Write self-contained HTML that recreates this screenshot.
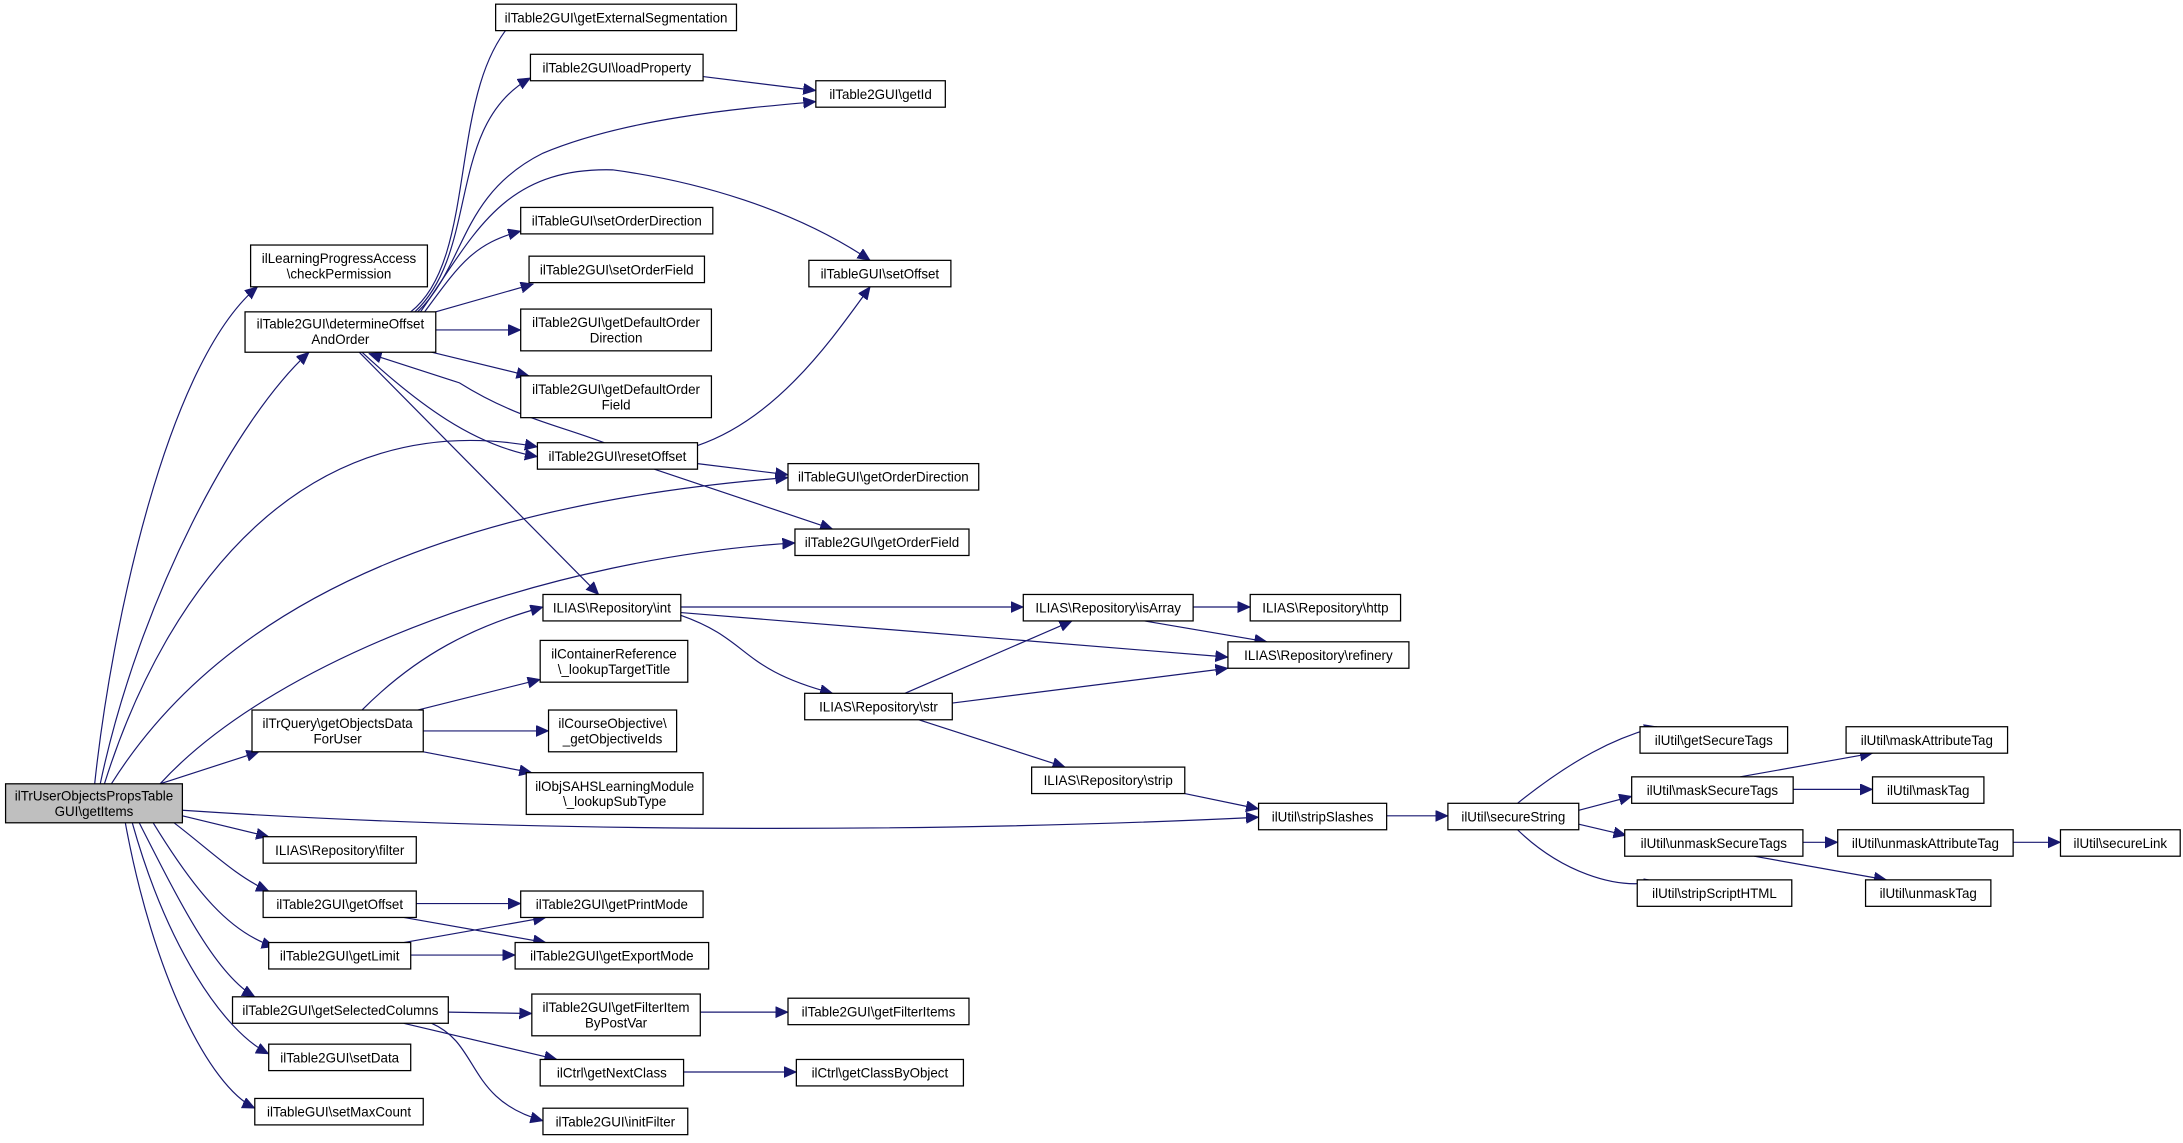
<!DOCTYPE html>
<html><head><meta charset="utf-8"><style>
html,body{margin:0;padding:0;background:#fff;}
svg{display:block}
text{font-family:"Liberation Sans",Helvetica,sans-serif;font-size:9.6px;fill:#000;text-anchor:middle}
.b{fill:#fff;stroke:#000;stroke-width:0.9}
.e{fill:none;stroke:#191970;stroke-width:0.85}
</style></head><body>
<svg width="2183" height="1143" viewBox="0 0 1568 821" xmlns="http://www.w3.org/2000/svg">
<defs><marker id="a" markerUnits="userSpaceOnUse" markerWidth="10" markerHeight="10" refX="9" refY="4" orient="auto"><path d="M0,0 L9,4 L0,8 z" fill="#191970" stroke="#191970" stroke-width="0.5"/></marker></defs>
<g marker-end="url(#a)">
<path class="e" d="M68,563 C80,450 120,260 185,206"/>
<path class="e" d="M72,563 C100,430 170,300 222,253"/>
<path class="e" d="M75,563 C120,420 220,290 386,321"/>
<path class="e" d="M80,563 C170,420 350,360 566,343"/>
<path class="e" d="M115,563 C200,470 400,400 571,390"/>
<path class="e" d="M115,563 L186,540"/>
<path class="e" d="M131,582 C400,600 700,597 904,587"/>
<path class="e" d="M131,586 L193,601"/>
<path class="e" d="M125,591 C150,610 170,630 193,640"/>
<path class="e" d="M110,591 C140,640 165,670 197,680"/>
<path class="e" d="M100,591 C130,650 155,700 183,716"/>
<path class="e" d="M95,591 C120,680 160,740 193,757"/>
<path class="e" d="M90,591 C110,700 150,780 183,796"/>
<path class="e" d="M295,224 C345,185 320,60 372,12"/>
<path class="e" d="M298,224 C345,180 320,90 381,56"/>
<path class="e" d="M300,224 C335,190 330,140 390,110 C450,85 530,78 586,73"/>
<path class="e" d="M302,224 C340,170 360,120 440,122 C500,130 570,150 625,187"/>
<path class="e" d="M305,224 C330,190 340,175 374,166"/>
<path class="e" d="M313,224 L383,204"/>
<path class="e" d="M313,237 L374,237"/>
<path class="e" d="M310,253 L380,270"/>
<path class="e" d="M260,253 C300,290 340,320 386,328"/>
<path class="e" d="M434,318 C400,305 370,300 330,275 L265,254"/>
<path class="e" d="M258,253 L430,427"/>
<path class="e" d="M501,320 C560,300 600,240 625,206"/>
<path class="e" d="M501,333 L566,341"/>
<path class="e" d="M470,337 L598,380"/>
<path class="e" d="M505,55 L586,65"/>
<path class="e" d="M489,436 L735,436"/>
<path class="e" d="M489,440 L882,472"/>
<path class="e" d="M489,442 C540,460 530,480 598,498"/>
<path class="e" d="M650,498 L770,446"/>
<path class="e" d="M684,505 L882,480"/>
<path class="e" d="M660,517 L765,551"/>
<path class="e" d="M857,436 L898,436"/>
<path class="e" d="M822,446 L910,461"/>
<path class="e" d="M260,510 C300,470 340,450 390,436"/>
<path class="e" d="M300,510 L388,488"/>
<path class="e" d="M304,525 L394,525"/>
<path class="e" d="M304,540 L382,555"/>
<path class="e" d="M851,570 L904,581"/>
<path class="e" d="M996,586 L1040,586"/>
<path class="e" d="M1090,577 C1130,545 1160,530 1190,522"/>
<path class="e" d="M1134,582 L1172,572"/>
<path class="e" d="M1134,592 L1168,600"/>
<path class="e" d="M1090,596 C1120,625 1160,640 1190,633"/>
<path class="e" d="M1250,558 L1345,541"/>
<path class="e" d="M1288,567 L1345,567"/>
<path class="e" d="M1295,605 L1320,605"/>
<path class="e" d="M1260,615 L1355,632"/>
<path class="e" d="M1446,605 L1480,605"/>
<path class="e" d="M299,649 L374,649"/>
<path class="e" d="M290,659 L392,677"/>
<path class="e" d="M290,677 L392,659"/>
<path class="e" d="M295,686 L370,686"/>
<path class="e" d="M322,727 L382,728"/>
<path class="e" d="M290,735 L400,761"/>
<path class="e" d="M310,735 C345,750 335,790 390,805"/>
<path class="e" d="M503,727 L566,727"/>
<path class="e" d="M491,770 L572,770"/>
</g>
<rect x="4" y="563" width="127" height="28" fill="#bfbfbf" stroke="#000" stroke-width="0.9"/>
<text x="67.5" y="575">ilTrUserObjectsPropsTable</text><text x="67.5" y="586">GUI\getItems</text>
<rect class="b" x="180" y="176" width="127" height="30"/><text x="243.5" y="189">ilLearningProgressAccess</text><text x="243.5" y="200">\checkPermission</text>
<rect class="b" x="176" y="224" width="137" height="29"/><text x="244.5" y="236">ilTable2GUI\determineOffset</text><text x="244.5" y="247">AndOrder</text>
<rect class="b" x="356" y="3" width="173" height="19"/><text x="442.5" y="16">ilTable2GUI\getExternalSegmentation</text>
<rect class="b" x="381" y="39" width="124" height="19"/><text x="443" y="52">ilTable2GUI\loadProperty</text>
<rect class="b" x="586" y="58" width="93" height="19"/><text x="632.5" y="71">ilTable2GUI\getId</text>
<rect class="b" x="374" y="149" width="138" height="19"/><text x="443" y="162">ilTableGUI\setOrderDirection</text>
<rect class="b" x="380" y="184" width="126" height="19"/><text x="443" y="197">ilTable2GUI\setOrderField</text>
<rect class="b" x="374" y="222" width="137" height="30"/><text x="442.5" y="235">ilTable2GUI\getDefaultOrder</text><text x="442.5" y="246">Direction</text>
<rect class="b" x="374" y="270" width="137" height="30"/><text x="442.5" y="283">ilTable2GUI\getDefaultOrder</text><text x="442.5" y="294">Field</text>
<rect class="b" x="581" y="187" width="102" height="19"/><text x="632" y="200">ilTableGUI\setOffset</text>
<rect class="b" x="386" y="318" width="115" height="19"/><text x="443.5" y="331">ilTable2GUI\resetOffset</text>
<rect class="b" x="566" y="333" width="137" height="19"/><text x="634.5" y="346">ilTableGUI\getOrderDirection</text>
<rect class="b" x="571" y="380" width="125" height="19"/><text x="633.5" y="393">ilTable2GUI\getOrderField</text>
<rect class="b" x="390" y="427" width="99" height="19"/><text x="439.5" y="440">ILIAS\Repository\int</text>
<rect class="b" x="181" y="510" width="123" height="30"/><text x="242.5" y="523">ilTrQuery\getObjectsData</text><text x="242.5" y="534">ForUser</text>
<rect class="b" x="388" y="460" width="106" height="30"/><text x="441" y="473">ilContainerReference</text><text x="441" y="484">\_lookupTargetTitle</text>
<rect class="b" x="394" y="510" width="92" height="30"/><text x="440" y="523">ilCourseObjective\</text><text x="440" y="534">_getObjectiveIds</text>
<rect class="b" x="378" y="555" width="127" height="30"/><text x="441.5" y="568">ilObjSAHSLearningModule</text><text x="441.5" y="579">\_lookupSubType</text>
<rect class="b" x="189" y="601" width="110" height="19"/><text x="244" y="614">ILIAS\Repository\filter</text>
<rect class="b" x="189" y="640" width="110" height="19"/><text x="244" y="653">ilTable2GUI\getOffset</text>
<rect class="b" x="374" y="640" width="131" height="19"/><text x="439.5" y="653">ilTable2GUI\getPrintMode</text>
<rect class="b" x="193" y="677" width="102" height="19"/><text x="244" y="690">ilTable2GUI\getLimit</text>
<rect class="b" x="370" y="677" width="139" height="19"/><text x="439.5" y="690">ilTable2GUI\getExportMode</text>
<rect class="b" x="167" y="716" width="155" height="19"/><text x="244.5" y="729">ilTable2GUI\getSelectedColumns</text>
<rect class="b" x="382" y="714" width="121" height="30"/><text x="442.5" y="727">ilTable2GUI\getFilterItem</text><text x="442.5" y="738">ByPostVar</text>
<rect class="b" x="566" y="717" width="130" height="19"/><text x="631" y="730">ilTable2GUI\getFilterItems</text>
<rect class="b" x="388" y="761" width="103" height="19"/><text x="439.5" y="774">ilCtrl\getNextClass</text>
<rect class="b" x="572" y="761" width="120" height="19"/><text x="632" y="774">ilCtrl\getClassByObject</text>
<rect class="b" x="193" y="750" width="102" height="19"/><text x="244" y="763">ilTable2GUI\setData</text>
<rect class="b" x="183" y="789" width="121" height="19"/><text x="243.5" y="802">ilTableGUI\setMaxCount</text>
<rect class="b" x="390" y="796" width="104" height="19"/><text x="442" y="809">ilTable2GUI\initFilter</text>
<rect class="b" x="735" y="427" width="122" height="19"/><text x="796" y="440">ILIAS\Repository\isArray</text>
<rect class="b" x="898" y="427" width="108" height="19"/><text x="952" y="440">ILIAS\Repository\http</text>
<rect class="b" x="882" y="461" width="130" height="19"/><text x="947" y="474">ILIAS\Repository\refinery</text>
<rect class="b" x="578" y="498" width="106" height="19"/><text x="631" y="511">ILIAS\Repository\str</text>
<rect class="b" x="741" y="551" width="110" height="19"/><text x="796" y="564">ILIAS\Repository\strip</text>
<rect class="b" x="904" y="577" width="92" height="19"/><text x="950" y="590">ilUtil\stripSlashes</text>
<rect class="b" x="1040" y="577" width="94" height="19"/><text x="1087" y="590">ilUtil\secureString</text>
<rect class="b" x="1178" y="522" width="106" height="19"/><text x="1231" y="535">ilUtil\getSecureTags</text>
<rect class="b" x="1172" y="558" width="116" height="19"/><text x="1230" y="571">ilUtil\maskSecureTags</text>
<rect class="b" x="1167" y="596" width="128" height="19"/><text x="1231" y="609">ilUtil\unmaskSecureTags</text>
<rect class="b" x="1176" y="632" width="111" height="19"/><text x="1231.5" y="645">ilUtil\stripScriptHTML</text>
<rect class="b" x="1326" y="522" width="116" height="19"/><text x="1384" y="535">ilUtil\maskAttributeTag</text>
<rect class="b" x="1345" y="558" width="80" height="19"/><text x="1385" y="571">ilUtil\maskTag</text>
<rect class="b" x="1320" y="596" width="126" height="19"/><text x="1383" y="609">ilUtil\unmaskAttributeTag</text>
<rect class="b" x="1340" y="632" width="90" height="19"/><text x="1385" y="645">ilUtil\unmaskTag</text>
<rect class="b" x="1480" y="596" width="86" height="19"/><text x="1523" y="609">ilUtil\secureLink</text>
</svg>
</body></html>
